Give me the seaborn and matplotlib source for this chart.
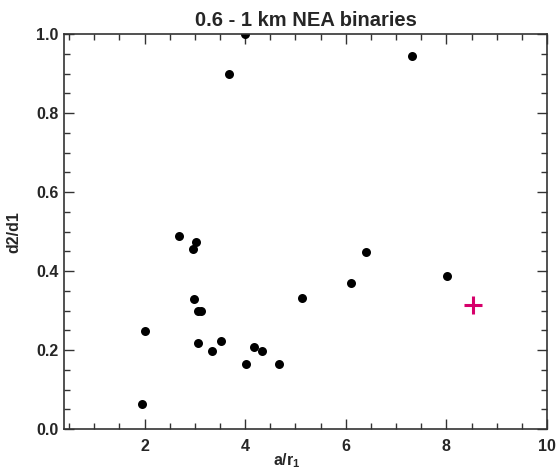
import matplotlib
matplotlib.use('Agg')
import matplotlib.pyplot as plt
import seaborn as sns
import pandas as pd
from matplotlib.ticker import MultipleLocator

# binary separation (a/r1) and diameter ratio (d2/d1)
a_r1 = [4.00, 3.68, 7.31, 2.68, 3.02, 2.96, 2.99, 3.07, 3.12, 2.00, 3.06,
        3.34, 3.51, 4.17, 4.34, 4.01, 4.68, 1.95, 5.14, 6.10, 6.41, 8.01]
d2_d1 = [1.000, 0.900, 0.944, 0.489, 0.474, 0.457, 0.329, 0.300, 0.300, 0.249, 0.217,
         0.199, 0.224, 0.208, 0.199, 0.166, 0.166, 0.064, 0.333, 0.371, 0.449, 0.388]

# highlighted object
mark_x = [8.53]
mark_y = [0.314]

sns.set_style('ticks')
plt.rcParams['font.family'] = ['Liberation Sans', 'DejaVu Sans']
plt.rcParams['font.weight'] = 'bold'
plt.rcParams['mathtext.fontset'] = 'custom'
plt.rcParams['mathtext.rm'] = 'Liberation Sans:bold'
plt.rcParams['mathtext.bf'] = 'Liberation Sans:bold'

df = pd.DataFrame({'a_r1': a_r1, 'd2_d1': d2_d1})

fig = plt.figure(figsize=(5.57, 4.69), dpi=100)
ax = fig.add_axes([0.115, 0.085, 0.867, 0.8425])

sns.scatterplot(data=df, x='a_r1', y='d2_d1', ax=ax, color='black',
                s=42, linewidth=0)
ax.plot(mark_x, mark_y, marker='+', color='#d6006b', markersize=13,
        markeredgewidth=2.2, linestyle='none')

ax.set_xlim(0.4, 10)
ax.set_ylim(0, 1.0)
ax.xaxis.set_major_locator(MultipleLocator(2))
ax.xaxis.set_minor_locator(MultipleLocator(0.5))
ax.yaxis.set_major_locator(MultipleLocator(0.2))
ax.yaxis.set_minor_locator(MultipleLocator(0.05))
ax.yaxis.set_major_formatter(matplotlib.ticker.FormatStrFormatter('%.1f'))

ax.tick_params(which='both', direction='in', top=True, right=True,
               labelsize=11.5, color='#333333')
ax.tick_params(which='major', length=7, width=1)
ax.tick_params(which='minor', length=4, width=1)
ax.tick_params(axis='x', which='major', pad=7)
ax.tick_params(axis='y', which='major', pad=4)
for s in ax.spines.values():
    s.set_visible(True)
    s.set_linewidth(1.2)
    s.set_color('#333333')

ax.set_xticks([2, 4, 6, 8, 10])
ax.set_xlabel(r'a/r$_\mathbf{1}$', fontsize=11.5, fontweight='bold')
ax.xaxis.set_label_coords(0.462, -0.055)
ax.set_ylabel('d2/d1', fontsize=11.5, fontweight='bold')
ax.yaxis.set_label_coords(-0.088, 0.5)
ax.set_title('0.6 - 1 km NEA binaries', fontsize=14.5, fontweight='bold', pad=6)

fig.savefig('out.png', dpi=100)
